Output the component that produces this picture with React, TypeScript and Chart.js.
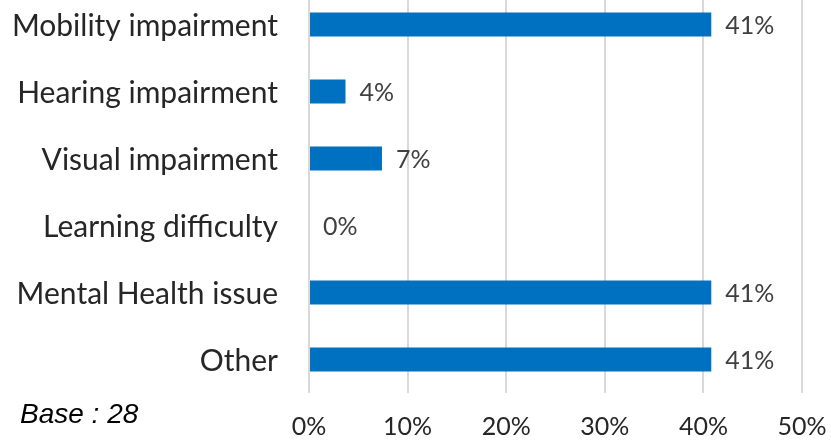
import React, { useEffect, useRef } from "react";
import { Chart, registerables } from "chart.js";

Chart.register(...registerables);

const categories = [
  "Mobility impairment",
  "Hearing impairment",
  "Visual impairment",
  "Learning difficulty",
  "Mental Health issue",
  "Other",
];
const values = [40.8, 3.7, 7.4, 0, 40.8, 40.8];
const valueLabels = ["41%", "4%", "7%", "0%", "41%", "41%"];
const xTicks = [0, 10, 20, 30, 40, 50];
const baseText = "Base : 28";

const FONT = "Lato, 'Open Sans', sans-serif";

const labelPlugin = {
  id: "barLabels",
  afterDatasetsDraw(chart: any) {
    const ctx = chart.ctx;
    const meta = chart.getDatasetMeta(0);
    ctx.save();
    ctx.font = `25px ${FONT}`;
    ctx.fillStyle = "#404040";
    ctx.textAlign = "left";
    ctx.textBaseline = "middle";
    meta.data.forEach((bar: any, i: number) => {
      ctx.fillText(valueLabels[i], bar.x + 14, bar.y + 1);
    });
    ctx.restore();
  },
};

export default function App() {
  const ref = useRef<HTMLCanvasElement | null>(null);
  useEffect(() => {
    document.body.style.margin = "0";
    const chart = new Chart(ref.current as HTMLCanvasElement, {
      type: "bar",
      data: {
        labels: categories,
        datasets: [
          {
            data: values,
            backgroundColor: "#0070C0",
            barPercentage: 0.36,
            categoryPercentage: 1,
          },
        ],
      },
      options: {
        indexAxis: "y",
        responsive: false,
        animation: false,
        layout: { padding: { left: 0, right: 29, top: 0, bottom: 0 } },
        plugins: { legend: { display: false }, tooltip: { enabled: false } },
        scales: {
          x: {
            min: 0,
            max: 50,
            afterBuildTicks: (s: any) => {
              s.ticks = xTicks.map((v) => ({ value: v }));
            },
            afterFit: (s: any) => {
              s.height = 50;
              s.paddingLeft = 0;
              s.paddingRight = 0;
            },
            grid: { color: "#d9d9d9", lineWidth: 2, drawTicks: false },
            border: { display: false },
            ticks: {
              padding: 19,
              color: "#262626",
              font: { family: FONT, size: 25 },
              callback: (v: any) => v + "%",
            },
          },
          y: {
            afterFit: (s: any) => {
              s.width = 309;
              s.paddingTop = 0;
              s.paddingBottom = 0;
            },
            grid: { display: false, drawTicks: false },
            border: { display: false },
            ticks: {
              padding: 31,
              labelOffset: 2,
              color: "#262626",
              font: { family: FONT, size: 30 },
            },
          },
        },
      },
      plugins: [labelPlugin],
    });
    return () => chart.destroy();
  }, []);
  return (
    <div style={{ position: "relative", width: 831, height: 443, overflow: "hidden", background: "#fff" }}>
      <canvas
        ref={ref}
        width={831}
        height={452}
        style={{ position: "absolute", left: 0, top: -9, width: 831, height: 452 }}
      />
      <div
        style={{
          position: "absolute",
          left: 20,
          top: 398,
          fontFamily: "'Liberation Sans', Arial, sans-serif",
          fontStyle: "italic",
          fontSize: 28,
          color: "#000",
          lineHeight: "32px",
        }}
      >
        {baseText}
      </div>
    </div>
  );
}
